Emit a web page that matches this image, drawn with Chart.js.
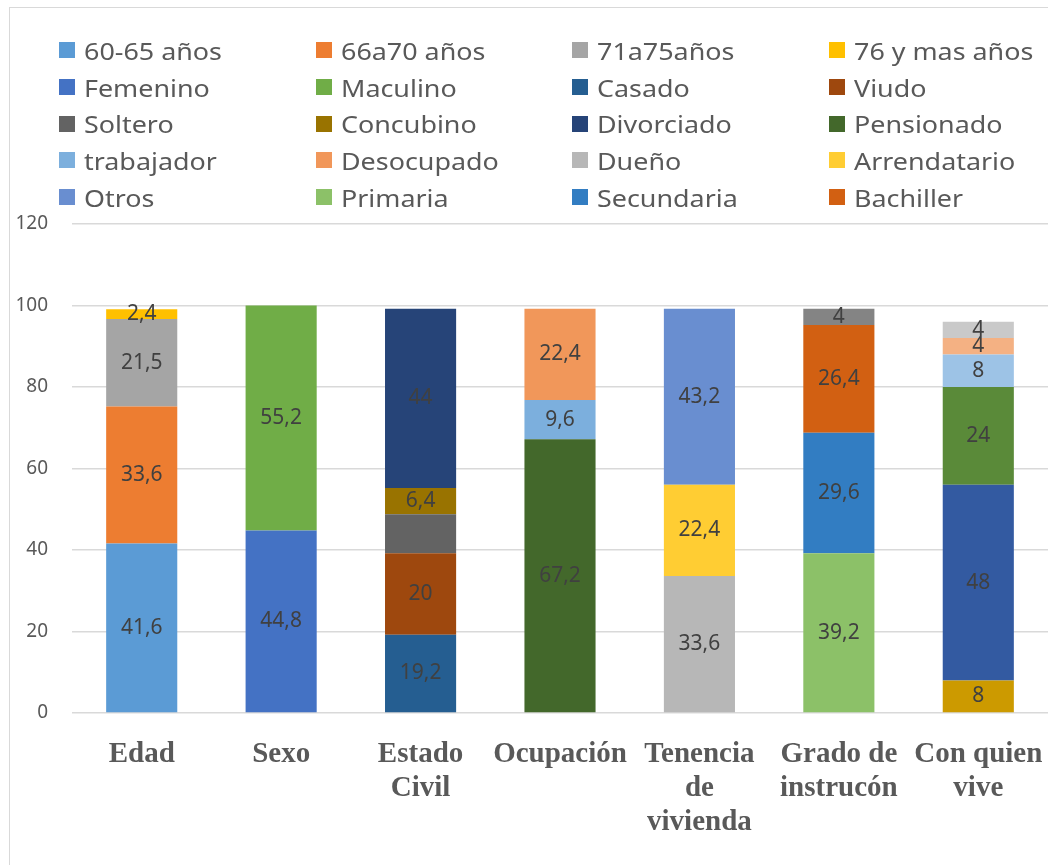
<!DOCTYPE html>
<html lang="es">
<head>
<meta charset="utf-8">
<title>Características sociodemográficas</title>
<script src="https://cdn.jsdelivr.net/npm/chart.js@4.4.1/dist/chart.umd.min.js"></script>
<style>
    html, body { margin: 0; padding: 0; background: #fff; }
    body { width: 1048px; height: 865px; position: relative; overflow: hidden; }
    #marco { position: absolute; left: 9px; top: 7px; width: 1100px; height: 900px; border: 1px solid #d9d9d9; box-sizing: border-box; }
    #grafico { position: absolute; left: 0; top: 0; }
    #leyenda {
        position: absolute; left: 59px; top: 32px;
        display: grid; grid-template-columns: repeat(4, 256.5px); grid-auto-rows: 36.7px;
        font-family: "Noto Sans", sans-serif; font-size: 24px; color: #595959;
    }
    #leyenda .item { display: flex; align-items: center; white-space: nowrap; }
    #leyenda .caja { width: 16px; height: 16px; margin-right: 9px; flex: none; }
    /* el original está algo estirado en horizontal */
    #leyenda .texto { display: inline-block; transform: scaleX(1.12); transform-origin: left center; }
</style>
</head>
<body>
<div id="marco"></div>
<canvas id="grafico" width="1048" height="865"></canvas>
<div id="leyenda"></div>
<script>
// categorías del eje X
const categorias = ['Edad', 'Sexo', ['Estado', 'Civil'], 'Ocupación', ['Tenencia', 'de', 'vivienda'], ['Grado de', 'instrucón'], ['Con quien', 'vive']];

// series por categoría (nombre / valor %)
const edadSeries = ['60-65 años', '66a70 años', '71a75años', '76 y mas años'];
const edadValores = [41.6, 33.6, 21.5, 2.4];
const sexoSeries = ['Femenino', 'Maculino'];
const sexoValores = [44.8, 55.2];
const civilSeries = ['Casado', 'Viudo', 'Soltero', 'Concubino', 'Divorciado'];
const civilValores = [19.2, 20, 9.6, 6.4, 44];
const ocupacionSeries = ['Pensionado', 'trabajador', 'Desocupado'];
const ocupacionValores = [67.2, 9.6, 22.4];
const tenenciaSeries = ['Dueño', 'Arrendatario', 'Otros'];
const tenenciaValores = [33.6, 22.4, 43.2];
const gradoSeries = ['Primaria', 'Secundaria', 'Bachiller', 'Superior'];
const gradoValores = [39.2, 29.6, 26.4, 4];
const viveSeries = ['Solo', 'Con hijos', 'Con pareja', 'Con familiares', 'Con amigos', 'Otro'];
const viveValores = [8, 48, 24, 8, 4, 4];

// colores en el orden de las series (paleta de Office)
const colores = [
    '#5B9BD5', '#ED7D31', '#A5A5A5', '#FFC000', '#4472C4', '#70AD47',
    '#255E91', '#9E480E', '#636363', '#997300', '#264478', '#43682B',
    '#7CAFDD', '#F1975A', '#B7B7B7', '#FFCD33', '#698ED0', '#8CC168',
    '#327DC2', '#D26012', '#848484', '#CC9A00', '#335AA1', '#5A8A39',
    '#9DC3E6', '#F4B183', '#C9C9C9'
];

// series sin etiqueta de dato en el original
const sinEtiqueta = ['Soltero'];
// solo se ven las primeras 20 entradas de la leyenda
const maxLeyenda = 20;

const grupos = [
    [edadSeries, edadValores], [sexoSeries, sexoValores], [civilSeries, civilValores],
    [ocupacionSeries, ocupacionValores], [tenenciaSeries, tenenciaValores],
    [gradoSeries, gradoValores], [viveSeries, viveValores]
];

const datasets = [];
grupos.forEach(([nombres, valores], idx) => {
    nombres.forEach((nombre, i) => {
        const data = Array(categorias.length).fill(null);
        data[idx] = valores[i];
        datasets.push({
            label: nombre,
            data: data,
            backgroundColor: colores[datasets.length],
            borderWidth: 0
        });
    });
});

// Etiquetas de datos centradas en cada segmento
const etiquetasPlugin = {
    id: 'etiquetas',
    afterDatasetsDraw(chart) {
        const ctx = chart.ctx;
        ctx.save();
        ctx.font = '21px "Noto Sans", sans-serif';
        ctx.fillStyle = '#404040';
        ctx.textAlign = 'center';
        ctx.textBaseline = 'middle';
        chart.data.datasets.forEach((ds, i) => {
            if (sinEtiqueta.includes(ds.label)) return;
            chart.getDatasetMeta(i).data.forEach((bar, j) => {
                const v = ds.data[j];
                if (v === null || v === undefined) return;
                const texto = String(v).replace('.', ',');
                ctx.fillText(texto, bar.x, (bar.y + bar.base) / 2);
            });
        });
        ctx.restore();
    }
};

const ctx = document.getElementById('grafico').getContext('2d');
const chart = new Chart(ctx, {
    type: 'bar',
    data: { labels: categorias, datasets: datasets },
    options: {
        responsive: false,
        animation: false,
        layout: { padding: { top: 224, left: 0, right: 0, bottom: 0 } },
        datasets: { bar: { categoryPercentage: 1, barPercentage: 0.51 } },
        plugins: {
            legend: { display: false },
            tooltip: { enabled: false }
        },
        scales: {
            x: {
                stacked: true,
                grid: { display: false },
                border: { display: false },
                ticks: {
                    padding: 17,
                    color: '#595959',
                    font: { family: '"Liberation Serif", serif', size: 29, weight: 'bold', lineHeight: '34px' },
                    maxRotation: 0, autoSkip: false
                },
                afterFit(scale) {
                    scale.height = 152;
                    scale.paddingLeft = 0;
                    scale.paddingRight = 0;
                }
            },
            y: {
                stacked: true,
                min: 0, max: 120,
                ticks: {
                    stepSize: 20, padding: 24, color: '#595959',
                    font: { family: '"Noto Sans", sans-serif', size: 19 }
                },
                grid: { color: '#d9d9d9', lineWidth: 1.5, drawTicks: false },
                border: { display: false },
                afterFit(scale) { scale.width = 72; }
            }
        }
    },
    plugins: [etiquetasPlugin]
});

// leyenda HTML en 4 columnas
const leyenda = document.getElementById('leyenda');
chart.options.plugins.legend.labels.generateLabels(chart).slice(0, maxLeyenda).forEach(item => {
    const div = document.createElement('div');
    div.className = 'item';
    const caja = document.createElement('span');
    caja.className = 'caja';
    caja.style.background = item.fillStyle;
    const txt = document.createElement('span');
    txt.className = 'texto';
    txt.textContent = item.text;
    div.appendChild(caja);
    div.appendChild(txt);
    leyenda.appendChild(div);
});
</script>
</body>
</html>
